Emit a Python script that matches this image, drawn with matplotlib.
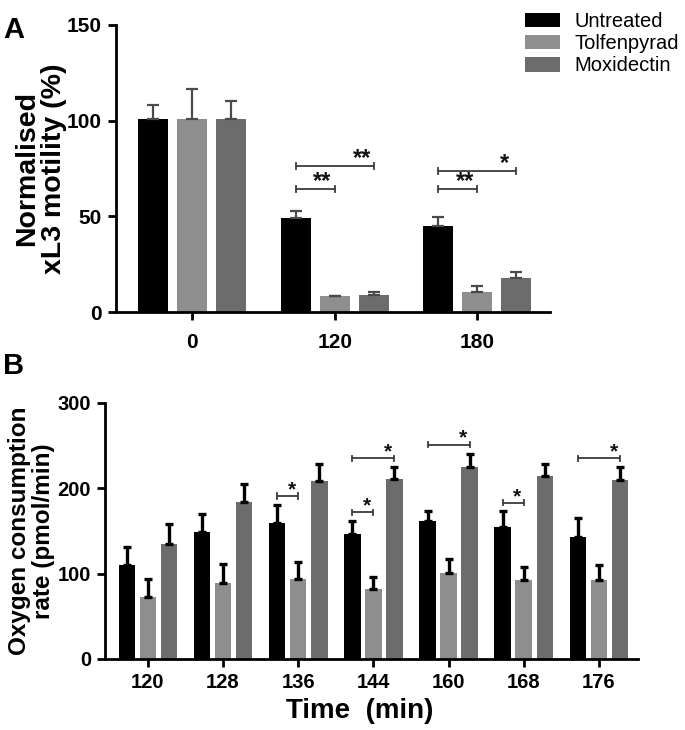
import matplotlib
matplotlib.use("Agg")
import matplotlib.pyplot as plt
import numpy as np
from matplotlib.patches import Patch

plt.rcParams['font.family'] = ['Liberation Sans', 'DejaVu Sans']

# ---------------- data ----------------
series = ["Untreated", "Tolfenpyrad", "Moxidectin"]
colors = ["#000000", "#8e8e8e", "#6c6c6c"]

a_categories = ["0", "120", "180"]
a_untreated = [101, 49.3, 45]
a_tolfen = [101, 8.3, 10.6]
a_moxi = [101, 8.9, 17.6]
a_untreated_err = [7.2, 3.5, 4.7]
a_tolfen_err = [15.5, 0.3, 3.0]
a_moxi_err = [9.3, 1.7, 3.4]

b_categories = ["120", "128", "136", "144", "160", "168", "176"]
b_untreated = [110, 149, 159, 147, 162, 155, 143]
b_tolfen = [73, 89, 94, 82, 101, 92, 93]
b_moxi = [135, 184, 209, 211, 225, 215, 210]
b_untreated_err = [21, 21, 22, 15, 12, 19, 22]
b_tolfen_err = [21, 22, 20, 14, 16, 16, 17]
b_moxi_err = [23, 21, 20, 14, 15, 14, 15]

# significance annotations: (group, bar_i, bar_j, height, label)
a_sig = [(1, 0, 1, 64.3, "**"), (1, 0, 2, 76.3, "**"),
         (2, 0, 1, 64.3, "**"), (2, 0, 2, 73.7, "*")]
b_sig = [(2, 0, 1, 191, "*"), (3, 0, 1, 172, "*"), (3, 0, 2, 235, "*"),
         (4, 0, 2, 251, "*"), (5, 0, 1, 183, "*"), (6, 0, 2, 235, "*")]

# ---------------- figure ----------------
W, H = 685, 730
fig = plt.figure(figsize=(W / 100, H / 100), dpi=100)

def px_axes(l, r, t, b):
    return fig.add_axes([l / W, 1 - b / H, (r - l) / W, (b - t) / H])

axA = px_axes(116, 550, 25, 312)
axB = px_axes(105, 638, 403, 659)


def draw_bracket(ax, x1, x2, y, label, cap, fs, lw):
    ax.plot([x1, x2], [y, y], color="#3a3a3a", lw=lw, solid_capstyle="butt")
    for x in (x1, x2):
        ax.plot([x, x], [y - cap, y + cap], color="#3a3a3a", lw=lw)
    ax.text(x2 - 0.085, y - cap * 1.2, label, ha="center", va="bottom",
            fontsize=fs, fontweight="bold", color="#111111")


def style_axis(ax, fs):
    for s in ("top", "right"):
        ax.spines[s].set_visible(False)
    for s in ("left", "bottom"):
        ax.spines[s].set_linewidth(2.0)
    ax.tick_params(axis="both", width=2.0, length=6, direction="out",
                   labelsize=fs, pad=4)
    for lab in ax.get_xticklabels() + ax.get_yticklabels():
        lab.set_fontweight("bold")


# ---------------- panel A ----------------
bw = 0.21
off = 0.274
xa = np.arange(len(a_categories))
valsA = [a_untreated, a_tolfen, a_moxi]
errsA = [a_untreated_err, a_tolfen_err, a_moxi_err]
for i in range(3):
    xs = xa + (i - 1) * off
    axA.bar(xs, valsA[i], width=bw, color=colors[i], zorder=2)
    axA.errorbar(xs, valsA[i], yerr=[np.zeros(len(xs)), errsA[i]], fmt="none",
                 ecolor="#4a4a4a", elinewidth=1.6, capsize=4.3, capthick=1.6,
                 zorder=3)
axA.set_xlim(-0.533, 2.51)
axA.set_ylim(0, 150)
axA.set_yticks([0, 50, 100, 150])
axA.set_xticks(xa)
axA.set_xticklabels(a_categories)
style_axis(axA, 15)
axA.tick_params(axis="x", pad=9)
axA.set_ylabel("Normalised\nxL3 motility (%)", fontsize=20.5,
               fontweight="bold", linespacing=1.05)
axA.yaxis.set_label_coords(-0.113, 0.5)
for g, i, j, y, lab in a_sig:
    draw_bracket(axA, g + (i - 1) * off, g + (j - 1) * off, y, lab,
                 cap=1.6, fs=17, lw=1.3)

fig.text(3 / W, 1 - 30 / H, "A", fontsize=21, fontweight="bold",
         ha="left", va="center")

# ---------------- panel B ----------------
bwB = 0.22
offB = 0.28
xb = np.arange(len(b_categories))
valsB = [b_untreated, b_tolfen, b_moxi]
errsB = [b_untreated_err, b_tolfen_err, b_moxi_err]
for i in range(3):
    xs = xb + (i - 1) * offB
    axB.bar(xs, valsB[i], width=bwB, color=colors[i], zorder=2)
    axB.errorbar(xs, valsB[i], yerr=[np.zeros(len(xs)), errsB[i]], fmt="none",
                 ecolor="#000000", elinewidth=2.4, capsize=3.0, capthick=2.4,
                 zorder=3)
axB.set_xlim(-0.57, 6.52)
axB.set_ylim(0, 300)
axB.set_yticks([0, 100, 200, 300])
axB.set_xticks(xb)
axB.set_xticklabels(b_categories)
style_axis(axB, 14.5)
axB.tick_params(axis="x", pad=4)
axB.set_ylabel("Oxygen consumption\nrate (pmol/min)", fontsize=17.5,
               fontweight="bold", linespacing=1.05)
axB.yaxis.set_label_coords(-0.094, 0.5)
axB.set_xlabel("Time  (min)", fontsize=20, fontweight="bold")
axB.xaxis.set_label_coords(0.478, -0.152)
for g, i, j, y, lab in b_sig:
    draw_bracket(axB, g + (i - 1) * offB, g + (j - 1) * offB, y, lab,
                 cap=3.0, fs=15, lw=1.3)

fig.text(3 / W, 1 - 366 / H, "B", fontsize=21, fontweight="bold",
         ha="left", va="center")

# ---------------- legend ----------------
handles = [Patch(facecolor=c, edgecolor="none") for c in colors]
fig.legend(handles, series, loc="upper left",
           bbox_to_anchor=(509 / W, 1 + 4 / H), frameon=False, fontsize=14.5,
           handlelength=1.75, handleheight=0.75, handletextpad=0.7,
           labelspacing=0.15, borderpad=0.3)

fig.savefig("out.png", dpi=100)
